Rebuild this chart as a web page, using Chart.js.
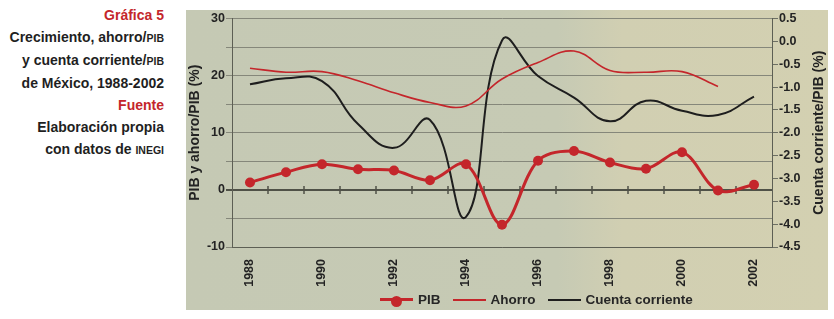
<!DOCTYPE html>
<html>
<head>
<meta charset="utf-8">
<script src="https://cdn.jsdelivr.net/npm/chart.js@4.4.1/dist/chart.umd.min.js"></script>
<style>
  html, body { margin: 0; padding: 0; background: #fff; }
  body { width: 834px; height: 319px; position: relative; overflow: hidden; font-family: "Liberation Sans", Arial, sans-serif; }
  #caption { position: absolute; left: 0; top: 4px; width: 164px; text-align: right; font-weight: bold; font-size: 14px; line-height: 22px; color: #1f1f1f; }
  #caption .red { color: #c4262b; }
  #caption .sc { font-size: 10.5px; }
  #panel { position: absolute; left: 186px; top: 10px; width: 642px; height: 300px;
    background: linear-gradient(to right, #c5c9b4 0%, #c6cab4 58%, #d1cfb2 68%, #d3d0b1 100%); }
  #legend { position: absolute; left: 380px; top: 292px; display: flex; align-items: center; font-weight: bold; font-size: 13.5px; color: #262626; }
  #legend .item { display: flex; align-items: center; margin-right: 12px; }
  #legend .sw { position: relative; display: inline-block; width: 33px; margin-right: 5px; }
  #legend .dot { position: absolute; left: 11px; top: -5px; width: 11px; height: 11px; border-radius: 50%; background: #c4262b; }
</style>
</head>
<body>
<div id="caption">
  <div class="red">Gráfica 5</div>
  <div>Crecimiento, ahorro/<span class="sc">PIB</span></div>
  <div>y cuenta corriente/<span class="sc">PIB</span></div>
  <div>de México, 1988-2002</div>
  <div class="red">Fuente</div>
  <div>Elaboración propia</div>
  <div>con datos de <span class="sc">INEGI</span></div>
</div>
<div id="panel"><canvas id="chart" width="642" height="300"></canvas></div>
<div id="legend">
  <div class="item"><span class="sw" style="border-top:3px solid #c4262b"><span class="dot"></span></span>PIB</div>
  <div class="item"><span class="sw" style="border-top:2px solid #c4262b"></span>Ahorro</div>
  <div class="item"><span class="sw" style="border-top:2px solid #1e1e1e"></span>Cuenta corriente</div>
</div>
<script>
// Crecimiento (PIB), ahorro/PIB y cuenta corriente/PIB, México 1988-2002
const years = ['1988', '1989', '1990', '1991', '1992', '1993', '1994', '1995',
               '1996', '1997', '1998', '1999', '2000', '2001', '2002'];
const pib    = [1.3, 3.1, 4.5, 3.6, 3.4, 1.7, 4.5, -6.1, 5.1, 6.8, 4.8, 3.7, 6.6, -0.1, 0.9];
const ahorro = [21.3, 20.6, 20.7, 19.1, 17.0, 15.3, 14.7, 19.4, 22.3, 24.3, 20.9, 20.6, 20.7, 18.1, null];
const cuenta = [-0.94, -0.81, -0.87, -1.81, -2.33, -1.72, -3.84, 0.02, -0.76, -1.23, -1.75, -1.30, -1.52, -1.61, -1.21];

const leftMin = -10, leftMax = 30, leftStep = 5;
const rightMin = -4.5, rightMax = 0.5, rightStep = 0.5;
const rightTitle = 'Cuenta corriente/PIB (%)';

const RED = '#c4262b', BLACK = '#1e1e1e', INK = '#232323';
const tickFont = { family: '"Liberation Sans", Arial, sans-serif', size: 12.5, weight: 'bold' };
const titleFont = { family: '"Liberation Sans", Arial, sans-serif', size: 14, weight: 'bold' };

// short marks on the zero line, between years
const zeroTicks = {
  id: 'zeroTicks',
  beforeDatasetsDraw(chart) {
    const { ctx, scales: { x, y } } = chart;
    const y0 = y.getPixelForValue(0);
    ctx.save();
    ctx.strokeStyle = '#4f5147';
    ctx.lineWidth = 1.5;
    for (let i = 0; i < years.length - 1; i++) {
      const xp = (x.getPixelForTick(i) + x.getPixelForTick(i + 1)) / 2;
      ctx.beginPath(); ctx.moveTo(xp, y0 - 4); ctx.lineTo(xp, y0 + 4); ctx.stroke();
    }
    ctx.restore();
  }
};

// right axis title reads bottom-to-top, like the left one
const rightAxisTitle = {
  id: 'rightAxisTitle',
  afterDraw(chart) {
    const { ctx, chartArea, scales: { y1 } } = chart;
    ctx.save();
    ctx.translate(y1.right - 9, (chartArea.top + chartArea.bottom) / 2);
    ctx.rotate(-Math.PI / 2);
    ctx.font = 'bold 14px "Liberation Sans", Arial, sans-serif';
    ctx.fillStyle = INK;
    ctx.textAlign = 'center';
    ctx.textBaseline = 'middle';
    ctx.fillText(rightTitle, 0, 0);
    ctx.restore();
  }
};

new Chart(document.getElementById('chart').getContext('2d'), {
  type: 'line',
  data: {
    labels: years,
    datasets: [
      { label: 'PIB', data: pib, yAxisID: 'y', borderColor: RED, backgroundColor: RED,
        borderWidth: 3, pointRadius: 5, pointBackgroundColor: RED, pointBorderWidth: 0, tension: 0.35 },
      { label: 'Ahorro', data: ahorro, yAxisID: 'y', borderColor: RED, borderWidth: 1.6,
        pointRadius: 0, tension: 0.4 },
      { label: 'Cuenta corriente', data: cuenta, yAxisID: 'y1', borderColor: BLACK, borderWidth: 2,
        pointRadius: 0, tension: 0.45 }
    ]
  },
  options: {
    responsive: false,
    animation: false,
    layout: { padding: { top: 7, bottom: 0, left: 0, right: 0 } },
    plugins: { legend: { display: false }, tooltip: { enabled: false } },
    scales: {
      x: {
        type: 'category',
        offset: true,
        grid: { display: false },
        border: { display: true, color: '#5d5f54', width: 1 },
        ticks: {
          color: INK, font: tickFont, autoSkip: false, maxRotation: 90, minRotation: 90, padding: 4,
          callback: (v, i) => (i % 2 === 0 ? years[i] : '')
        },
        afterFit: s => { s.height = 63; }
      },
      y: {
        position: 'left',
        min: leftMin, max: leftMax,
        ticks: { stepSize: leftStep, color: INK, font: tickFont, padding: 1,
                 callback: v => (v % 10 === 0 ? v : '') },
        grid: {
          color: c => (c.tick && c.tick.value === 0 ? '#4f5147' : '#85877a'),
          lineWidth: c => (c.tick && c.tick.value === 0 ? 2 : 1),
          tickLength: 6
        },
        border: { color: '#5d5f54' },
        title: { display: true, text: 'PIB y ahorro/PIB (%)', color: INK, font: titleFont, padding: { top: 1, bottom: 0 } },
        afterFit: s => { s.width = 46; }
      },
      y1: {
        position: 'right',
        min: rightMin, max: rightMax,
        ticks: { stepSize: rightStep, color: INK, font: tickFont, padding: 1,
                 callback: v => Number(v).toFixed(1) },
        grid: { drawOnChartArea: false, color: '#6d6f63', tickLength: 6 },
        border: { color: '#5d5f54' },
        afterFit: s => { s.width = 56; }
      }
    }
  },
  plugins: [zeroTicks, rightAxisTitle]
});
</script>
</body>
</html>
